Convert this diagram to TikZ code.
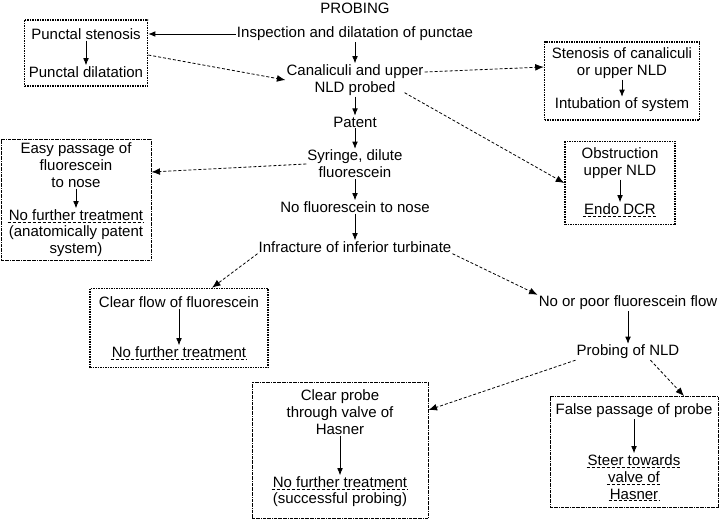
\documentclass[tikz,border=0pt]{standalone}
\usepackage{fontspec}
\setmainfont{Liberation Sans}
\usetikzlibrary{arrows.meta,positioning}

\begin{document}
\begin{tikzpicture}[
  x=1pt, y=-1pt,
  lbl/.style={align=center, inner sep=1pt, font=\fontsize{15}{17}\selectfont},
  panel/.style={draw, densely dotted, line width=1.5pt, inner sep=0pt},
  panelb/.style={draw, densely dashdotted, line width=1pt, inner sep=0pt},
  flow/.style={-{Latex[length=2.5mm,width=2mm]}, thick},
  link/.style={-{Latex[length=3mm,width=2.4mm]}, densely dashed, thick},
  uline/.style={densely dashed, thin}
]
  \useasboundingbox (0,0) rectangle (720,524);

  % main column
  \node[lbl] (title) at (355,8) {PROBING};
  \node[lbl] (insp) at (355,34) {Inspection and dilatation of punctae};
  \node[lbl] (canal) at (355,80) {Canaliculi and upper\\NLD probed};
  \node[lbl] (patent) at (355,122) {Patent};
  \node[lbl] (syr) at (355,164) {Syringe, dilute\\fluorescein};
  \node[lbl] (nofl) at (355,207) {No fluorescein to nose};
  \node[lbl] (infr) at (355,247) {Infracture of inferior turbinate};
  \node[lbl] (poor) at (628,303) {No or poor fluorescein flow};
  \node[lbl] (pnld) at (628,352) {Probing of NLD};

  % box A
  \node[panel, minimum width=123pt, minimum height=66pt] (boxa) at (86,53) {};
  \node[lbl] (sten) at (86,34) {Punctal stenosis};
  \node[lbl] (dil) at (86,72) {Punctal dilatation};
  \draw[flow] (sten) -- (dil);

  % box B
  \node[panel, minimum width=155pt, minimum height=78pt] (boxb) at (622,81) {};
  \node[lbl] (stnc) at (622,63) {Stenosis of canaliculi\\or upper NLD};
  \node[lbl] (intub) at (622,105) {Intubation of system};
  \draw[flow] (stnc) -- (intub);

  % box C
  \node[panel, minimum width=110pt, minimum height=83pt] (boxc) at (620,183) {};
  \node[lbl] (obst) at (620,163) {Obstruction\\upper NLD};
  \node[lbl] (dcr) at (620,209) {Endo DCR};
  \draw[flow] (obst) -- (dcr);
  \draw[uline] (dcr.south west) -- (dcr.south east);

  % box D
  \node[panelb, minimum width=150pt, minimum height=120pt] (boxd) at (76,200) {};
  \node[lbl] (easy) at (76,165) {Easy passage of\\fluorescein\\to nose};
  \node[lbl] (nft1) at (76,215) {No further treatment};
  \node[lbl] (anat) at (76,241) {(anatomically patent\\system)};
  \draw[flow] (easy) -- (nft1);
  \draw[uline] (nft1.south west) -- (nft1.south east);

  % box E
  \node[panel, minimum width=178pt, minimum height=79pt] (boxe) at (179,328) {};
  \node[lbl] (clear) at (179,302) {Clear flow of fluorescein};
  \node[lbl] (nft2) at (179,352) {No further treatment};
  \draw[flow] (clear) -- (nft2);
  \draw[uline] (nft2.south west) -- (nft2.south east);

  % box F
  \node[panelb, minimum width=176pt, minimum height=136pt] (boxf) at (340,450) {};
  \node[lbl] (cprobe) at (340,412) {Clear probe\\through valve of\\Hasner};
  \node[lbl] (nft3) at (340,482) {No further treatment};
  \node[lbl] (succ) at (340,500) {(successful probing)};
  \draw[flow] (cprobe) -- (nft3);
  \draw[uline] (nft3.south west) -- (nft3.south east);

  % box G
  \node[panelb, minimum width=168pt, minimum height=111pt] (boxg) at (634,452) {};
  \node[lbl] (false) at (634,411) {False passage of probe};
  \node[lbl] (steer) at (634,460) {Steer towards};
  \node[lbl] (valve) at (634,477) {valve of};
  \node[lbl] (hasn) at (634,494) {Hasner};
  \draw[flow] (false) -- (steer);
  \foreach \n in {steer,valve,hasn}
    \draw[uline] (\n.south west) -- (\n.south east);

  % main flow
  \draw[flow] (insp) -- (canal);
  \draw[flow] (canal) -- (patent);
  \draw[flow] (patent) -- (syr);
  \draw[flow] (syr) -- (nofl);
  \draw[flow] (nofl) -- (infr);
  \draw[flow] (poor) -- (pnld);

  % side branches
  \draw[flow] (insp.west) -- (insp.west -| boxa.east);
  \draw[link] ([yshift=-2pt]boxa.east) -- (canal.west);
  \draw[link] ([yshift=8pt]canal.east) -- ([yshift=14pt]boxb.west);
  \draw[link] ([xshift=-20pt,yshift=4pt]canal.south east) -- (boxc.west);
  \draw[link] (syr.west) -- ([yshift=28pt]boxd.east);
  \draw[link] (infr.south west) -- ([xshift=33pt]boxe.north);
  \draw[link] (infr.south east) -- (poor.north west);
  \draw[link] (pnld.south west) -- ([yshift=40pt]boxf.east);
  \draw[link] ([xshift=-30pt]pnld.south east) -- ([xshift=50pt]boxg.north);
\end{tikzpicture}
\end{document}
